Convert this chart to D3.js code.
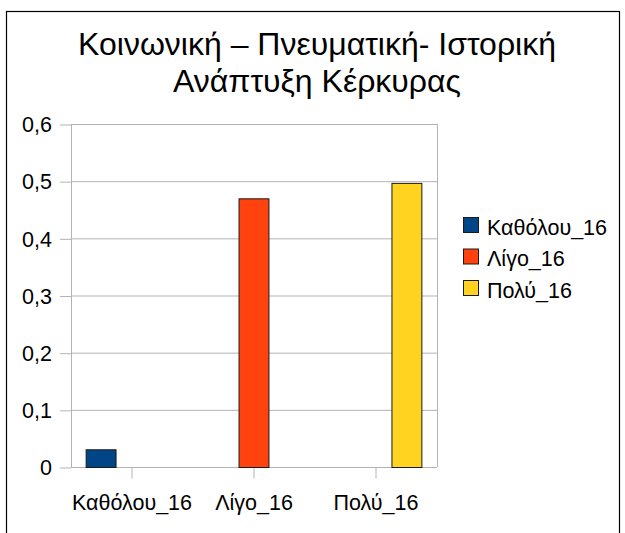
<!DOCTYPE html>
<html>
<head>
<meta charset="utf-8">
<script src="https://cdn.jsdelivr.net/npm/d3@7"></script>
<style>
  body { margin: 0; background: #fff; }
  text { font-family: "Liberation Sans", Arial, sans-serif; fill: #000; }
</style>
</head>
<body>
<div id="chart"></div>
<script>
// data
const categories = ["Καθόλου_16", "Λίγο_16", "Πολύ_16"];
const seriesNames = ["Καθόλου_16", "Λίγο_16", "Πολύ_16"];
const kathólouValues = [0.031, null, null];
const ligoValues = [null, 0.47, null];
const polyValues = [null, null, 0.497];
const seriesValues = [kathólouValues, ligoValues, polyValues];
const seriesColors = ["#004586", "#ff420e", "#ffd320"];
const yTicks = [0, 0.1, 0.2, 0.3, 0.4, 0.5, 0.6];
const titleLines = ["Κοινωνική – Πνευματική- Ιστορική", "Ανάπτυξη Κέρκυρας"];

const W = 625, H = 533;
const plot = {left: 71, top: 124, right: 437, bottom: 467};
const labelSize = 21.5;

const svg = d3.select("#chart")
  .append("svg")
  .attr("width", W)
  .attr("height", H);

// frame round the chart
svg.append("rect")
  .attr("x", 6.5).attr("y", 11.5)
  .attr("width", 613).attr("height", 600)
  .attr("fill", "none")
  .attr("stroke", "#000")
  .attr("stroke-width", 1.2);

// title
svg.append("text")
  .attr("text-anchor", "middle")
  .attr("font-size", 32)
  .selectAll("tspan")
  .data(titleLines)
  .join("tspan")
  .attr("x", 317)
  .attr("y", (d, i) => 55 + i * 37)
  .text(d => d);

const x0 = d3.scaleBand()
  .domain(categories)
  .range([plot.left, plot.right]);

const groupW = x0.bandwidth() * 0.76;
const x1 = d3.scaleBand()
  .domain(seriesNames)
  .range([(x0.bandwidth() - groupW) / 2, (x0.bandwidth() + groupW) / 2]);

const y = d3.scaleLinear()
  .domain([0, 0.6])
  .range([plot.bottom, plot.top]);

const locale = d3.formatLocale({decimal: ",", thousands: ".", grouping: [3], currency: ["", "€"]});
const fmt = locale.format("~g");

// gridlines
svg.append("g")
  .selectAll("line")
  .data(yTicks)
  .join("line")
  .attr("x1", plot.left).attr("x2", plot.right)
  .attr("y1", d => y(d) + 0.5).attr("y2", d => y(d) + 0.5)
  .attr("stroke", "#b3b3b3");

// plot side lines
svg.append("line")
  .attr("x1", plot.left + 0.5).attr("x2", plot.left + 0.5)
  .attr("y1", plot.top).attr("y2", plot.bottom)
  .attr("stroke", "#b3b3b3");
svg.append("line")
  .attr("x1", plot.right + 0.5).attr("x2", plot.right + 0.5)
  .attr("y1", plot.top).attr("y2", plot.bottom)
  .attr("stroke", "#b3b3b3");

// Y axis
const yAxis = svg.append("g")
  .attr("transform", `translate(${plot.left}, 0.5)`)
  .call(d3.axisLeft(y).tickValues(yTicks).tickSize(11).tickPadding(8).tickFormat(fmt));
yAxis.select(".domain").remove();
yAxis.selectAll(".tick line").attr("stroke", "#b3b3b3");
yAxis.selectAll("text").attr("font-size", labelSize).attr("dy", "0.34em");
yAxis.attr("font-family", null);

// X axis
const xAxis = svg.append("g")
  .attr("transform", `translate(0, ${plot.bottom + 0.5})`)
  .call(d3.axisBottom(x0).tickSize(11).tickPadding(16));
xAxis.select(".domain").remove();
xAxis.selectAll(".tick line").attr("stroke", "#b3b3b3");
xAxis.selectAll("text").attr("font-size", labelSize);
xAxis.attr("font-family", null);

// bars
seriesNames.forEach(function (name, si) {
  svg.append("g")
    .selectAll("rect")
    .data(seriesValues[si].map((v, ci) => ({cat: categories[ci], v: v})).filter(d => d.v != null))
    .join("rect")
    .attr("x", d => x0(d.cat) + x1(name) + 0.5)
    .attr("y", d => y(d.v) + 0.5)
    .attr("width", x1.bandwidth() - 1)
    .attr("height", d => y(0) - y(d.v))
    .attr("fill", seriesColors[si])
    .attr("stroke", "#1a1a1a")
    .attr("stroke-width", 1);
});

// legend
const legend = svg.append("g")
  .selectAll("g")
  .data(seriesNames)
  .join("g")
  .attr("transform", (d, i) => `translate(463, ${217 + i * 31.5})`);
legend.append("rect")
  .attr("x", 0.5).attr("y", 0.5)
  .attr("width", 15).attr("height", 15)
  .attr("fill", (d, i) => seriesColors[i])
  .attr("stroke", "#1a1a1a");
legend.append("text")
  .attr("x", 24)
  .attr("y", 17.5)
  .attr("font-size", labelSize)
  .text(d => d);
</script>
</body>
</html>
